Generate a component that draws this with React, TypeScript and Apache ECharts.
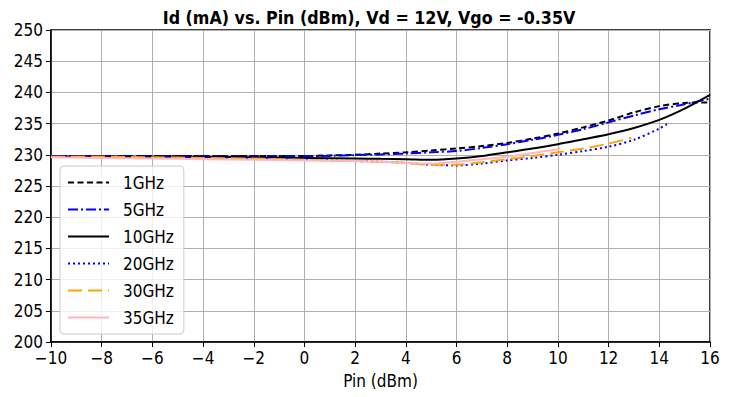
import React, { useEffect, useRef } from "react";
import * as echarts from "echarts";

const titleText = "Id (mA) vs. Pin (dBm), Vd = 12V, Vgo = -0.35V";
const xName = "Pin (dBm)";

const pin1 = [-10, -8, -6, -4, -2, 0, 1, 2, 3, 4, 5, 6, 7, 8, 9, 10, 11, 12, 13, 14, 15, 16];
const id1 = [229.8, 229.8, 229.8, 229.8, 229.8, 229.8, 229.9, 230.0, 230.2, 230.4, 230.7, 231.0, 231.4, 231.9, 232.6, 233.4, 234.4, 235.5, 236.8, 237.8, 238.3, 238.4];

const pin5 = [-10, -8, -6, -4, -2, 0, 1, 2, 3, 4, 5, 6, 7, 8, 9, 10, 11, 12, 13, 14, 15, 16];
const id5 = [229.8, 229.8, 229.8, 229.8, 229.8, 229.8, 229.85, 229.95, 230.05, 230.2, 230.4, 230.6, 231.1, 231.7, 232.4, 233.2, 234.1, 235.2, 236.3, 237.3, 238.1, 239.0];

const pin10 = [-10, -8, -6, -4, -2, 0, 2, 3, 4, 5, 6, 7, 8, 9, 10, 11, 12, 13, 14, 15, 16];
const id10 = [229.7, 229.7, 229.7, 229.65, 229.6, 229.5, 229.4, 229.35, 229.3, 229.2, 229.4, 229.8, 230.4, 231.0, 231.7, 232.5, 233.3, 234.3, 235.6, 237.4, 239.6];

const pin20 = [-10, -8, -6, -4, -2, 0, 2, 3, 4, 5, 6, 7, 8, 9, 10, 11, 12, 13, 14, 14.3];
const id20 = [229.8, 229.8, 229.7, 229.6, 229.4, 229.2, 229.0, 228.9, 228.7, 228.4, 228.3, 228.6, 229.1, 229.5, 230.0, 230.6, 231.3, 232.4, 234.2, 234.9];

const pin30 = [-10, -8, -6, -4, -2, 0, 2, 3, 4, 5, 6, 7, 8, 9, 10, 11, 12, 12.9];
const id30 = [229.7, 229.7, 229.6, 229.5, 229.4, 229.2, 229.0, 228.9, 228.7, 228.4, 228.4, 228.8, 229.3, 229.8, 230.4, 231.0, 231.8, 232.7];

const pin35 = [-10, -8, -6, -4, -2, 0, 2, 3, 4, 5, 6, 7, 8, 9, 10, 10.1];
const id35 = [229.6, 229.5, 229.4, 229.3, 229.2, 229.1, 229.0, 228.9, 228.7, 228.6, 228.9, 229.3, 229.7, 230.3, 230.9, 231.0];

const seriesNames = ["1GHz", "5GHz", "10GHz", "20GHz", "30GHz", "35GHz"];

const zip = (xs: number[], ys: number[]) => xs.map((x, i) => [x, ys[i]]);

const FONT = "'DejaVu Sans Condensed', 'Noto Sans'";

export default function App() {
  const ref = useRef<HTMLDivElement>(null);
  useEffect(() => {
    if (!ref.current) return;
    const chart = echarts.init(ref.current, null, { renderer: "svg" });
    const styles: any[] = [
      { color: "#000000", type: [6, 3.5], width: 2 },
      { color: "#0000ff", type: [10, 3, 2, 3], width: 2 },
      { color: "#000000", type: "solid", width: 2 },
      { color: "#0000ff", type: [2, 3], width: 2 },
      { color: "#ffa500", type: [14, 6], width: 2 },
      { color: "#ffb6c1", type: "solid", width: 2 },
    ];
    const datas = [zip(pin1, id1), zip(pin5, id5), zip(pin10, id10), zip(pin20, id20), zip(pin30, id30), zip(pin35, id35)];
    const minus = (v: number) => String(v).replace("-", "\u2212");
    chart.setOption({
      animation: false,
      title: {
        text: titleText,
        left: "center",
        top: 4,
        textStyle: { fontFamily: FONT, fontSize: 17.7, fontWeight: "bold", color: "#000" },
      },
      grid: {
        left: 51,
        right: 28,
        top: 30,
        bottom: 55,
        show: true,
        borderColor: "#000",
        borderWidth: 1.5,
      },
      legend: {
        orient: "vertical",
        left: 60,
        top: 166,
        padding: [8, 10, 8, 7],
        itemWidth: 41,
        itemHeight: 14,
        itemGap: 10,
        borderColor: "#cccccc",
        borderWidth: 1,
        borderRadius: 4,
        backgroundColor: "rgba(255,255,255,0.8)",
        itemStyle: { opacity: 0 },
        textStyle: { fontFamily: FONT, fontSize: 17, color: "#000", padding: [0, 0, 0, 9] },
        data: seriesNames,
      },
      xAxis: {
        type: "value",
        min: -10,
        max: 16,
        interval: 2,
        name: xName,
        nameLocation: "middle",
        nameGap: 30,
        nameTextStyle: { fontFamily: FONT, fontSize: 17, color: "#000" },
        axisLine: { show: true, onZero: false, lineStyle: { color: "#000", width: 1.5 } },
        axisTick: { show: true, length: 5, lineStyle: { color: "#000" } },
        axisLabel: { fontFamily: FONT, fontSize: 17, color: "#000", margin: 7, formatter: minus },
        splitLine: { show: true, lineStyle: { color: "#b0b0b0", width: 1 } },
      },
      yAxis: {
        type: "value",
        min: 200,
        max: 250,
        interval: 5,
        axisLine: { show: true, onZero: false, lineStyle: { color: "#000", width: 1.5 } },
        axisTick: { show: true, length: 5, lineStyle: { color: "#000" } },
        axisLabel: { fontFamily: FONT, fontSize: 17, color: "#000", margin: 8 },
        splitLine: { show: true, lineStyle: { color: "#b0b0b0", width: 1 } },
      },
      series: seriesNames.map((name, i) => ({
        name,
        type: "line",
        data: datas[i],
        smooth: 0.3,
        showSymbol: false,
        symbol: "none",
        lineStyle: styles[i],
        itemStyle: { color: styles[i].color },
        z: 2 + i,
      })),
    });
    return () => chart.dispose();
  }, []);
  return <div ref={ref} style={{ width: 738, height: 397, position: "absolute", left: 0, top: 0 }} />;
}
